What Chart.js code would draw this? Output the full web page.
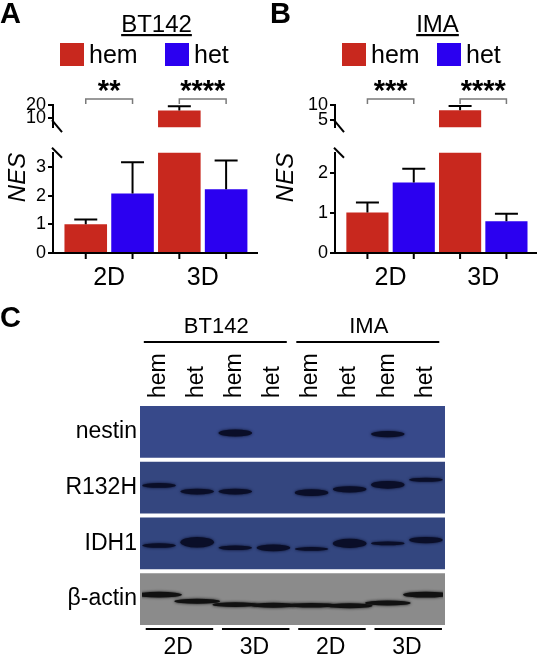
<!DOCTYPE html>
<html>
<head>
<meta charset="utf-8">
<script src="https://cdn.jsdelivr.net/npm/chart.js@4/dist/chart.umd.min.js"></script>
<style>
body { margin: 0; background: #fff; }
#fig { position: relative; width: 537px; height: 654px; overflow: hidden; background: #fff; }
#fig canvas { position: absolute; }
</style>
</head>
<body>
<div id="fig">
  <canvas id="aTop" width="268" height="140" style="left:0;top:0;width:268px;height:140px"></canvas>
  <canvas id="aLow" width="268" height="160" style="left:0;top:140px;width:268px;height:160px"></canvas>
  <canvas id="bTop" width="269" height="140" style="left:268px;top:0;width:269px;height:140px"></canvas>
  <canvas id="bLow" width="269" height="160" style="left:268px;top:140px;width:269px;height:160px"></canvas>
  <canvas id="blot" width="537" height="354" style="left:0;top:300px;width:537px;height:354px"></canvas>
</div>
<script>
// ---------- panel A / B data (NES) ----------
const groups = ['2D', '3D'];
const series = ['hem', 'het'];

const bt142Hem = [1.0, 16.0];
const bt142HemErr = [1.17, 19.0];
const bt142Het = [2.08, 2.23];
const bt142HetErr = [3.17, 3.23];
const bt142Stars = ['**', '****'];
const bt142LowTicks = [0, 1, 2, 3];
const bt142HighTicks = [10, 20];

const imaHem = [1.01, 8.2];
const imaHemErr = [1.26, 9.7];
const imaHet = [1.76, 0.79];
const imaHetErr = [2.1, 0.98];
const imaStars = ['***', '****'];
const imaLowTicks = [0, 1, 2];
const imaHighTicks = [5, 10];

// ---------- panel C (western blot) ----------
const lanes = ['hem', 'het', 'hem', 'het', 'hem', 'het', 'hem', 'het'];
const cellLines = ['BT142', 'IMA'];
const cultures = ['2D', '3D', '2D', '3D'];
const blotRows = ['nestin', 'R132H', 'IDH1', 'β-actin'];
// band signal per lane (0 = no band)
const nestinBands = [0, 0, 0.6, 0, 0, 0, 0.5, 0];
const r132hBands = [0.35, 0.45, 0.45, 0, 0.55, 0.5, 0.7, 0.25];
const idh1Bands = [0.3, 1.0, 0.3, 0.55, 0.2, 0.85, 0.2, 0.5];
const actinBands = [0.6, 0.5, 0.45, 0.5, 0.45, 0.5, 0.5, 0.65];
// band migration drift, in row heights
const nestinDrift = [0, 0, 0.02, 0, 0, 0, 0.04, 0];
const r132hDrift = [-0.04, 0.07, 0.07, 0, 0.09, 0.03, -0.05, -0.14];
const idh1Drift = [0.04, -0.02, 0.08, 0.08, 0.1, 0, 0, -0.06];
const actinDrift = [-0.08, 0.04, 0.1, 0.11, 0.11, 0.12, 0.07, -0.08];

const FONT = '"Liberation Sans", Arial, sans-serif';
const RED = '#c8281e';
const BLUE = '#2b00f0';

function errorBars(chart) {
    const ctx = chart.ctx, a = chart.chartArea, y = chart.scales.y;
    ctx.save();
    ctx.beginPath();
    ctx.rect(a.left, a.top - 2, a.right - a.left, a.bottom - a.top + 2);
    ctx.clip();
    ctx.strokeStyle = '#000';
    ctx.lineWidth = 2;
    chart.data.datasets.forEach((ds, di) => {
        chart.getDatasetMeta(di).data.forEach((bar, i) => {
            if (ds.err[i] < y.min || ds.data[i].y > y.max) return;
            const top = y.getPixelForValue(ds.err[i]);
            const base = y.getPixelForValue(ds.data[i].y);
            ctx.beginPath();
            ctx.moveTo(bar.x, base);
            ctx.lineTo(bar.x, top);
            ctx.moveTo(bar.x - 11.5, top);
            ctx.lineTo(bar.x + 11.5, top);
            ctx.stroke();
        });
    });
    ctx.restore();
}

function makeDatasets(hem, hemErr, het, hetErr) {
    return [
        { label: series[0], data: groups.map((g, i) => ({ x: i, y: hem[i] })), err: hemErr, backgroundColor: RED },
        { label: series[1], data: groups.map((g, i) => ({ x: i, y: het[i] })), err: hetErr, backgroundColor: BLUE }
    ].map(d => Object.assign(d, { barPercentage: 0.91, categoryPercentage: 1, borderWidth: 0, clip: 0 }));
}

function xAxis(show) {
    return {
        type: 'linear', min: -0.6, max: 1.58, offset: false, display: show,
        afterBuildTicks: s => { s.ticks = groups.map((g, i) => ({ value: i })); },
        ticks: { callback: v => groups[v], font: { size: 25, family: FONT }, color: '#000', padding: 10, maxRotation: 0 },
        grid: { display: false, drawTicks: false },
        border: { display: true, color: '#000', width: 2 },
        afterFit: s => { s.height = show ? 40 : 0; }
    };
}

function yAxis(min, max, ticks, width, title) {
    const ax = {
        min: min, max: max,
        afterBuildTicks: s => { s.ticks = ticks.map(v => ({ value: v })); },
        ticks: { font: { size: 18, family: FONT }, color: '#000', padding: 2 },
        grid: { drawOnChartArea: false, drawTicks: true, tickLength: 5, color: '#000', lineWidth: 2 },
        border: { color: '#000', width: 2 },
        afterFit: s => { s.width = width; }
    };
    if (title) {
        ax.title = { display: true, text: 'NES', align: 'end', color: '#000',
            font: { size: 24, style: 'italic', family: FONT }, padding: { top: 4, bottom: 0 } };
    }
    return ax;
}

function barPanel(o) {
    const common = { responsive: false, animation: false, events: [],
        plugins: { legend: { display: false }, tooltip: { enabled: false } } };

    // upper segment of the broken axis, with letter, title, legend and brackets
    new Chart(document.getElementById(o.top), {
        type: 'bar',
        data: { datasets: makeDatasets(o.hem, o.hemErr, o.het, o.hetErr) },
        options: Object.assign({}, common, {
            layout: { padding: { top: 105, bottom: 9, left: 0, right: o.rightPad } },
            scales: { x: xAxis(false), y: yAxis(o.highMin, o.highMax, o.highTicks, o.axisW, false) }
        }),
        plugins: [{
            id: 'upperDecor',
            afterDatasetsDraw: errorBars,
            afterDraw(chart) {
                const ctx = chart.ctx, a = chart.chartArea;
                ctx.save();
                ctx.fillStyle = '#000';
                ctx.font = 'bold 29px ' + FONT;
                ctx.textAlign = 'left';
                ctx.textBaseline = 'alphabetic';
                ctx.fillText(o.letter, o.letterX, 23);

                ctx.font = '24px ' + FONT;
                ctx.textAlign = 'center';
                ctx.fillText(o.title, o.titleX, 32);
                const tw = ctx.measureText(o.title).width;
                ctx.fillRect(o.titleX - tw / 2, 34, tw, 2.2);

                ctx.textAlign = 'left';
                ctx.font = '25px ' + FONT;
                chart.data.datasets.forEach((ds, i) => {
                    ctx.fillStyle = ds.backgroundColor;
                    ctx.fillRect(o.legendX[i], 43, 24, 23);
                    ctx.fillStyle = '#000';
                    ctx.fillText(ds.label, o.legendX[i] + 29, 63);
                });

                // significance brackets
                const m0 = chart.getDatasetMeta(0).data, m1 = chart.getDatasetMeta(1).data;
                ctx.strokeStyle = '#7a7a7a';
                ctx.lineWidth = 1.5;
                ctx.font = 'bold 29px ' + FONT;
                ctx.textAlign = 'center';
                o.stars.forEach((st, i) => {
                    const x0 = m0[i].x, x1 = m1[i].x;
                    ctx.beginPath();
                    ctx.moveTo(x0, 104); ctx.lineTo(x0, 99); ctx.lineTo(x1, 99); ctx.lineTo(x1, 104);
                    ctx.stroke();
                    ctx.fillText(st, (x0 + x1) / 2, 100);
                });

                // axis break mark
                ctx.strokeStyle = '#000';
                ctx.lineWidth = 2;
                ctx.beginPath();
                ctx.moveTo(a.left - 1, a.bottom - 7);
                ctx.lineTo(a.left + 9, a.bottom + 5);
                ctx.stroke();
                ctx.restore();
            }
        }]
    });

    // lower segment with the x axis
    new Chart(document.getElementById(o.low), {
        type: 'bar',
        data: { datasets: makeDatasets(o.hem, o.hemErr, o.het, o.hetErr) },
        options: Object.assign({}, common, {
            layout: { padding: { top: 8, bottom: 7, left: 0, right: o.rightPad } },
            scales: { x: xAxis(true), y: yAxis(0, o.lowMax, o.lowTicks, o.axisW, true) }
        }),
        plugins: [{
            id: 'lowerDecor',
            afterDatasetsDraw: errorBars,
            afterDraw(chart) {
                const ctx = chart.ctx, a = chart.chartArea;
                ctx.save();
                ctx.strokeStyle = '#000';
                ctx.lineWidth = 2;
                chart.data.datasets.forEach((ds, di) => {
                    chart.getDatasetMeta(di).data.forEach(bar => {
                        ctx.beginPath();
                        ctx.moveTo(bar.x, a.bottom);
                        ctx.lineTo(bar.x, a.bottom + 6);
                        ctx.stroke();
                    });
                });
                ctx.beginPath();
                ctx.moveTo(a.left - 1, a.top - 5);
                ctx.lineTo(a.left + 9, a.top + 5);
                ctx.stroke();
                ctx.restore();
            }
        }]
    });
}

barPanel({
    top: 'aTop', low: 'aLow', letter: 'A', letterX: 0, title: cellLines[0], titleX: 156.5,
    legendX: [60, 165], axisW: 53, rightPad: 11,
    hem: bt142Hem, hemErr: bt142HemErr, het: bt142Het, hetErr: bt142HetErr, stars: bt142Stars,
    lowMax: 3.5, lowTicks: bt142LowTicks, highMin: 3.5, highMax: 20, highTicks: bt142HighTicks
});

barPanel({
    top: 'bTop', low: 'bLow', letter: 'B', letterX: 2, title: cellLines[1], titleX: 169.5,
    legendX: [74, 169], axisW: 67, rightPad: 0,
    hem: imaHem, hemErr: imaHemErr, het: imaHet, hetErr: imaHetErr, stars: imaStars,
    lowMax: 2.5, lowTicks: imaLowTicks, highMin: 2.5, highMax: 10, highTicks: imaHighTicks
});

// ---------- panel C ----------
const bandRows = [nestinBands, r132hBands, idh1Bands, actinBands];
const bandDrift = [nestinDrift, r132hDrift, idh1Drift, actinDrift];

new Chart(document.getElementById('blot'), {
    type: 'bar',
    data: {
        labels: blotRows,
        datasets: [{
            data: blotRows.map(() => [-0.5, lanes.length - 0.5]),
            backgroundColor: ['#37498a', '#34467f', '#33467f', '#8b8b8b'],
            barPercentage: 0.93, categoryPercentage: 1, borderWidth: 0
        }]
    },
    options: {
        indexAxis: 'y', responsive: false, animation: false, events: [],
        layout: { padding: { top: 0, bottom: 27, left: 0, right: 92 } },
        plugins: { legend: { display: false }, tooltip: { enabled: false } },
        scales: {
            x: {
                type: 'linear', position: 'top', min: -0.5, max: lanes.length - 0.5, offset: false,
                afterBuildTicks: s => { s.ticks = lanes.map((l, i) => ({ value: i })); },
                ticks: { callback: v => lanes[v], minRotation: 90, maxRotation: 90, autoSkip: false,
                    labelOffset: 27, font: { size: 23, family: FONT }, color: '#000', padding: 6 },
                grid: { display: false, drawTicks: false },
                border: { display: false },
                afterFit: s => { s.height = 104; }
            },
            y: {
                ticks: { font: { size: 23, family: FONT }, color: '#000', padding: 3 },
                grid: { display: false, drawTicks: false },
                border: { display: false },
                afterFit: s => { s.width = 140; }
            }
        }
    },
    plugins: [{
        id: 'blotDecor',
        afterDatasetsDraw(chart) {
            const ctx = chart.ctx, a = chart.chartArea, x = chart.scales.x, y = chart.scales.y;
            const laneW = x.getPixelForValue(1) - x.getPixelForValue(0);
            const rowH = y.getPixelForValue(1) - y.getPixelForValue(0);
            ctx.save();
            ctx.beginPath();
            ctx.rect(a.left + 2, a.top, a.right - a.left - 4, a.bottom - a.top);
            ctx.clip();
            bandRows.forEach((row, r) => {
                const actin = r === blotRows.length - 1;
                const col = actin ? '#111111' : '#0a0e28';
                ctx.fillStyle = col;
                ctx.shadowColor = col;
                ctx.shadowBlur = 3;
                row.forEach((s, l) => {
                    if (!s) return;
                    const cx = x.getPixelForValue(l);
                    const cy = y.getPixelForValue(r) + bandDrift[r][l] * rowH;
                    ctx.beginPath();
                    ctx.ellipse(cx, cy, laneW * (actin ? 0.6 : 0.44), actin ? 1 + s * 3 : 1 + s * 4.2, 0, 0, Math.PI * 2);
                    ctx.fill();
                });
            });
            ctx.restore();
        },
        afterDraw(chart) {
            const ctx = chart.ctx, x = chart.scales.x;
            ctx.save();
            ctx.fillStyle = '#000';
            ctx.strokeStyle = '#000';
            ctx.lineWidth = 2;
            ctx.font = 'bold 29px ' + FONT;
            ctx.textBaseline = 'alphabetic';
            ctx.fillText('C', 0, 27);

            ctx.font = '22px ' + FONT;
            ctx.textAlign = 'center';
            cellLines.forEach((name, g) => {
                const first = g * 4, last = g * 4 + 3;
                ctx.fillText(name, x.getPixelForValue((first + last) / 2), 33);
                ctx.beginPath();
                ctx.moveTo(x.getPixelForValue(first - 0.4), 42);
                ctx.lineTo(x.getPixelForValue(last + 0.35), 42);
                ctx.stroke();
            });

            ctx.font = '23px ' + FONT;
            cultures.forEach((c, k) => {
                ctx.beginPath();
                ctx.moveTo(x.getPixelForValue(2 * k - 0.35), 329);
                ctx.lineTo(x.getPixelForValue(2 * k + 1.42), 329);
                ctx.stroke();
                ctx.fillText(c, x.getPixelForValue(2 * k + 0.5), 354);
            });
            ctx.restore();
        }
    }]
});
</script>
</body>
</html>
